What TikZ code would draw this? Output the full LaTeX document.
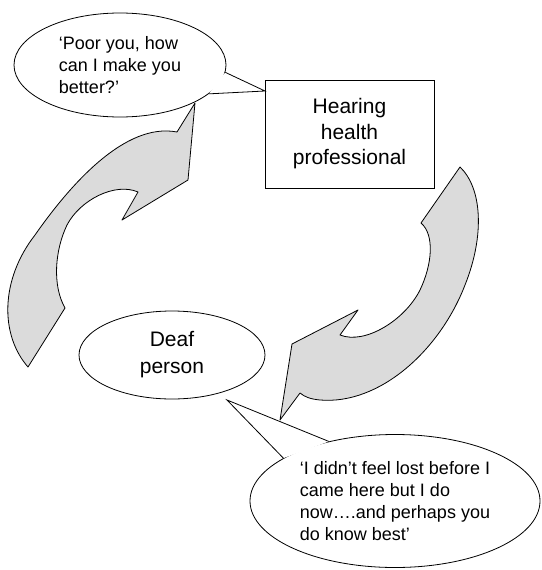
\documentclass[tikz,border=0pt]{standalone}
\usepackage{fontspec}
\setmainfont{Liberation Sans}
\usetikzlibrary{shapes.geometric}

\tikzstyle{bubble}=[ellipse,draw=black,fill=white,line width=0.8pt,inner sep=0pt,align=left]
\tikzstyle{person}=[ellipse,draw=black,fill=white,line width=0.8pt,inner sep=0pt,align=center,minimum width=186,minimum height=88,font=\fontsize{21}{27}\selectfont]
\tikzstyle{profbox}=[rectangle,draw=black,fill=white,line width=0.8pt,align=center,minimum width=169,minimum height=108,font=\fontsize{21}{25.5}\selectfont]
\tikzstyle{curl}=[draw=black,fill=black!14,line width=0.8pt,line join=round]
\tikzstyle{tail}=[draw=black,line width=0.8pt,line join=miter]

\begin{document}
\begin{tikzpicture}[x=1pt,y=-1pt,font=\fontsize{18}{22}\selectfont]
		\useasboundingbox (0,0) rectangle (541,570);

		% the two curved arrows
		\path[curl] (195,103) -- (188,180) -- (122,220) -- (138,192)
			.. controls (115,182) and (80,200) .. (67,225)
			.. controls (55,250) and (52,285) .. (65,308)
			-- (28,367)
			.. controls (0,335) and (0,280) .. (35,235)
			.. controls (70,185) and (125,122) .. (177,132) -- cycle;
		\path[curl] (460,167)
			.. controls (482,188) and (485,235) .. (465,285)
			.. controls (440,350) and (380,405) .. (320,400)
			.. controls (310,399) and (305,397) .. (300,393)
			-- (280,420) -- (292,344) -- (358,310) -- (340,335)
			.. controls (365,345) and (405,320) .. (420,290)
			.. controls (432,265) and (435,235) .. (421,223) -- cycle;

		\node (prof) at (349.5,134) [profbox] {Hearing\\health\\professional};
		\node (deaf) at (172,355) [person] {Deaf\\person};

		\node (sayA) at (120,65) [bubble,minimum width=212,minimum height=104] {‘Poor you, how\\can I make you\\better?’};
		\node (sayB) at (395,501) [bubble,minimum width=290,minimum height=133] {‘I didn’t feel lost before I\\came here but I do\\now….and perhaps you\\do know best’};

		\coordinate (tipA) at (265,91);
		\coordinate (tipB) at (227,400);
		\fill[white] (sayA.-4) -- (tipA) -- (sayA.-18) -- cycle;
		\draw[tail] (sayA.-4) -- (tipA) -- (sayA.-18);
		\fill[white] (sayB.159) -- (tipB) -- (sayB.138) -- cycle;
		\draw[tail] (sayB.159) -- (tipB) -- (sayB.138);
	\end{tikzpicture}
\end{document}
